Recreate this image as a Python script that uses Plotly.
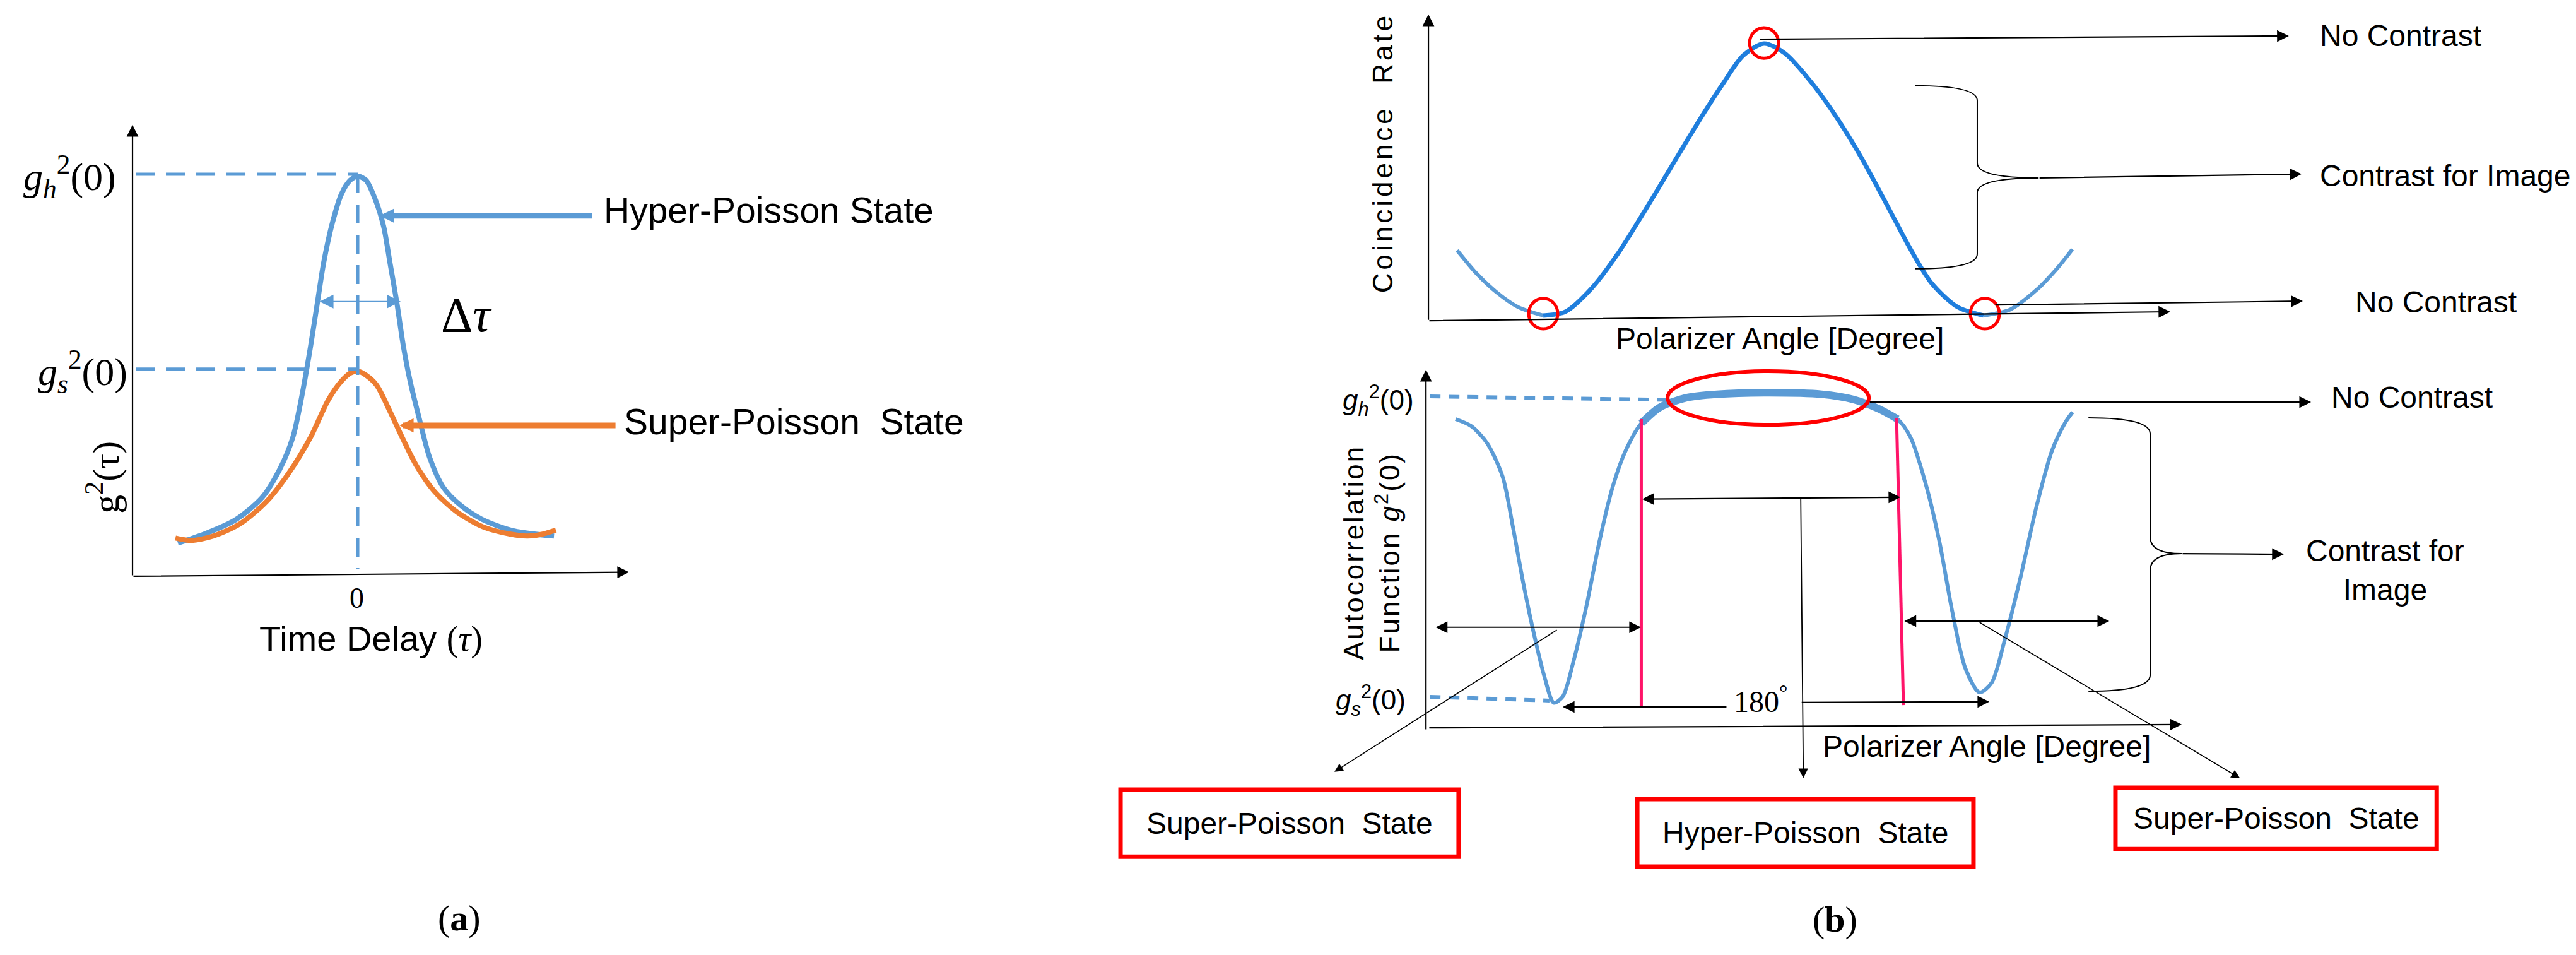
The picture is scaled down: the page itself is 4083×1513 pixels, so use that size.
import plotly.graph_objects as go

SANS = "Liberation Sans, Arial, sans-serif"
SERIF = "Liberation Serif, Times New Roman, serif"
BLUE = "#5B9BD5"
BLUE_BRIGHT = "#1F7EDD"
ORANGE = "#ED7D31"
RED = "#FF0000"
PINK = "#FF1469"

# (a) second-order correlation vs time delay
tau_hyper = [-2.85, -2.43, -1.94, -1.52, -1.24, -1.03, -0.89, -0.75, -0.64, -0.54, -0.40, -0.26, -0.12, 0.0,
             0.13, 0.27, 0.41, 0.51, 0.62, 0.72, 0.83, 0.97, 1.14, 1.36, 1.64, 1.99, 2.48, 3.11]
g2_hyper = [0.165, 0.21, 0.28, 0.39, 0.53, 0.69, 0.89, 1.14, 1.36, 1.56, 1.76, 1.90, 1.97, 1.99,
            1.97, 1.88, 1.74, 1.56, 1.36, 1.15, 0.97, 0.79, 0.59, 0.44, 0.35, 0.28, 0.225, 0.20]
tau_super = [-2.89, -2.64, -2.29, -1.87, -1.45, -1.10, -0.75, -0.47, -0.26, -0.12, 0.0, 0.13, 0.30,
             0.51, 0.72, 0.93, 1.22, 1.57, 1.99, 2.41, 2.69, 2.93, 3.14]
g2_super = [0.19, 0.178, 0.20, 0.26, 0.37, 0.51, 0.69, 0.875, 0.97, 1.01, 1.02, 1.00, 0.95,
            0.82, 0.68, 0.55, 0.42, 0.32, 0.245, 0.21, 0.20, 0.21, 0.23]

# (b) top: coincidence rate vs polarizer angle
theta_rate = [54.9, 62.8, 71.2, 79.8, 90.0, 99.0, 109.7, 120.3, 130.9, 141.6, 152.2, 163.0, 171.5, 180.0,
              188.5, 199.3, 209.9, 220.7, 231.3, 239.7, 248.2, 258.9, 269.5, 280.3, 290.9, 299.4, 305.7]
rate = [0.24, 0.155, 0.084, 0.031, 0.0, 0.014, 0.10, 0.226, 0.378, 0.538, 0.697, 0.849, 0.956, 1.0,
        0.964, 0.857, 0.724, 0.564, 0.386, 0.244, 0.12, 0.031, 0.0, 0.022, 0.093, 0.173, 0.244]

# (b) bottom: autocorrelation g2(0) vs polarizer angle
theta_g2 = [48.0, 54.6, 61.3, 67.9, 72.3, 76.7, 81.2, 85.6, 89.5, 93.3, 97.7, 103.3, 108.8, 114.3, 119.8,
            126.5, 134.2, 145.3, 158.5, 180.6, 202.7, 216.0, 227.1, 234.8, 240.3, 246.9, 252.5, 258.0,
            263.5, 269.5, 274.6, 280.1, 286.7, 293.4, 300.0, 305.5, 308.8]
g2_pol = [1.929, 1.906, 1.850, 1.739, 1.571, 1.385, 1.218, 1.078, 0.993, 1.013, 1.125, 1.311, 1.525, 1.702,
          1.823, 1.915, 1.967, 1.999, 2.011, 2.016, 2.011, 1.994, 1.962, 1.929, 1.869, 1.710, 1.525, 1.292,
          1.106, 1.027, 1.059, 1.200, 1.404, 1.636, 1.823, 1.915, 1.952]

g2_levels = {"h": 2.0, "s": 1.03}          # panel (a) reference levels
pol_levels = {"h": 2.0, "s": 1.0}          # panel (b) reference levels
state_names = ["Super-Poisson\u00a0 State", "Hyper-Poisson\u00a0 State", "Super-Poisson\u00a0 State"]

A = ("x", "y")
T = ("x2", "y2")
B = ("x3", "y3")

fig = go.Figure()


def curve(ax, x, y, color, width):
    fig.add_trace(go.Scatter(x=x, y=y, mode="lines", xaxis=ax[0], yaxis=ax[1],
                             line=dict(color=color, width=width, shape="spline", smoothing=0.8),
                             hoverinfo="skip", showlegend=False))


def seg(ax, p0, p1, color="black", width=2, dash="solid"):
    fig.add_shape(type="line", xref=ax[0], yref=ax[1], x0=p0[0], y0=p0[1], x1=p1[0], y1=p1[1],
                  line=dict(color=color, width=width, dash=dash))


def arrow(ax, tail, head, color="black", width=2.2, size=1.7, both=False):
    fig.add_annotation(xref=ax[0], yref=ax[1], axref=ax[0], ayref=ax[1],
                       x=head[0], y=head[1], ax=tail[0], ay=tail[1], text="", showarrow=True,
                       arrowhead=2, startarrowhead=2, arrowside="end+start" if both else "end",
                       arrowsize=size, startarrowsize=size, arrowwidth=width, arrowcolor=color)


def label(ax, x, y, text, size=48, family=SANS, xanchor="center", angle=0):
    fig.add_annotation(xref=ax[0], yref=ax[1], x=x, y=y, text=text, showarrow=False,
                       xanchor=xanchor, yanchor="middle", textangle=angle,
                       font=dict(family=family, size=size, color="black"))


def spaced(text, px):
    return f"<span style='letter-spacing:{px}px'>{text}</span>"


# ---------------- panel (a) ----------------
dash_a = "30px,18px"
seg(A, (-3.52, g2_levels["h"]), (0, g2_levels["h"]), BLUE, 5, dash_a)
seg(A, (-3.52, g2_levels["s"]), (0, g2_levels["s"]), BLUE, 5, dash_a)
seg(A, (0, g2_levels["h"]), (0, 0.035), BLUE, 5, dash_a)
curve(A, tau_hyper, g2_hyper, BLUE, 8)
curve(A, tau_super, g2_super, ORANGE, 8)
arrow(A, (-3.57, 0), (-3.57, 2.245))
arrow(A, (-3.57, 0), (4.30, 0.02))
arrow(A, (-0.62, 1.366), (0.68, 1.366), BLUE, 2, 2.2, both=True)
arrow(A, (3.73, 1.793), (0.35, 1.793), BLUE, 9, 0.5)
arrow(A, (4.10, 0.75), (0.66, 0.75), ORANGE, 9, 0.5)
label(A, -4.57, 1.99, "<i>g<sub>h</sub></i><sup>2</sup>(0)", 62, SERIF)
label(A, -4.36, 1.02, "<i>g<sub>s</sub></i><sup>2</sup>(0)", 62, SERIF)
label(A, -4.03, 0.49, "g<sup>2</sup>(τ)", 60, SERIF, angle=-90)
label(A, 1.72, 1.30, "Δ<i>τ</i>", 78, SERIF)
label(A, 3.88, 1.82, "Hyper-Poisson State", 57, xanchor="left")
label(A, 4.20, 0.77, "Super-Poisson\u00a0 State", 57, xanchor="left")
label(A, -0.02, -0.11, "0", 46, SERIF)
label(A, 0.21, -0.31, "Time Delay <span style='font-family:Liberation Serif'>(<i>τ</i>)</span>", 56)
label(A, 1.61, -1.70, "(<b>a</b>)", 58, SERIF)

# ---------------- panel (b) top ----------------
arrow(T, (43.2, -0.019), (43.2, 1.107))
arrow(T, (43.2, -0.019), (345.6, 0.014))
curve(T, theta_rate[:5], rate[:5], BLUE, 6)
curve(T, theta_rate[4:23], rate[4:23], BLUE_BRIGHT, 7)
curve(T, theta_rate[22:], rate[22:], BLUE, 6)
for c, r in [(90, 0.007), (180, 1.002), (270, 0.007)]:
    fig.add_shape(type="circle", xref="x2", yref="y2", x0=c - 5.9, x1=c + 5.9, y0=r - 0.056, y1=r + 0.056,
                  line=dict(color=RED, width=5))
arrow(T, (177.9, 1.016), (393.9, 1.028))
label(T, 406, 1.03, "No Contrast", 48, xanchor="left")
fig.add_shape(type="path", xref="x2", yref="y2", line=dict(color="black", width=2),
              path="M241.7,0.845 Q266.9,0.845 266.9,0.79 L266.9,0.56 Q266.9,0.506 291.9,0.506 "
                   "Q266.9,0.506 266.9,0.452 L266.9,0.226 Q266.9,0.172 241.7,0.172")
arrow(T, (291.9, 0.506), (399.1, 0.520))
label(T, 406, 0.515, "Contrast for Image", 48, xanchor="left")
arrow(T, (273.9, 0.039), (399.6, 0.053))
label(T, 420.4, 0.049, "No Contrast", 48, xanchor="left")
label(T, 24.4, 0.60, spaced("Coincidence\u00a0 Rate", 5), 44, angle=-90)
label(T, 186.4, -0.084, "Polarizer Angle [Degree]", 48)

# ---------------- panel (b) bottom ----------------
dash_b = "17px,13px"
seg(B, (37.1, 2.004), (142.9, 1.992), BLUE, 6, dash_b)
seg(B, (37.1, 1.0125), (87.7, pol_levels["s"]), BLUE, 6, dash_b)
arrow(B, (35.5, 0.902), (35.5, 2.092))
arrow(B, (36.5, 0.910), (354.9, 0.921))
curve(B, theta_g2, g2_pol, BLUE, 6)
curve(B, theta_g2[15:24], g2_pol[15:24], BLUE, 12)
fig.add_shape(type="circle", xref="x3", yref="y3", x0=137.6, x1=222.7, y0=1.910, y1=2.0875,
              line=dict(color=RED, width=6))
seg(B, (126.5, 1.929), (126.5, 0.981), PINK, 5)
seg(B, (234.4, 1.933), (237.3, 0.985), PINK, 5)
arrow(B, (126.5, 1.665), (236.0, 1.671), both=True)
arrow(B, (193.9, 1.669), (195.0, 0.744), width=1.8)
arrow(B, (39.2, 1.242), (126.4, 1.242), both=True)
arrow(B, (237.3, 1.2625), (324.3, 1.2625), both=True)
arrow(B, (91.2, 1.235), (-3.2, 0.765), width=1.6)
arrow(B, (269.1, 1.260), (379.5, 0.744), width=1.6)
arrow(B, (162.9, 0.979), (93.3, 0.979))
arrow(B, (193.9, 0.994), (273.6, 0.996))
label(B, 176.8, 1.004, "180<sup>°</sup>", 48, SERIF)
label(B, 12.5, 1.49, spaced("Autocorrelation", 3) + "<br>" + spaced("Function <i>g</i><sup>2</sup>(0)", 3),
      44, angle=-90)
label(B, 31.0, 1.99, "<i>g<sub>h</sub></i><sup>2</sup>(0)", 44, xanchor="right")
label(B, 27.5, 1.0, "<i>g<sub>s</sub></i><sup>2</sup>(0)", 44, xanchor="right")
fig.add_shape(type="path", xref="x3", yref="y3", line=dict(color="black", width=2),
              path="M315.5,1.933 Q341.6,1.933 341.6,1.88 L341.6,1.54 Q341.6,1.485 354.9,1.485 "
                   "Q341.6,1.485 341.6,1.43 L341.6,1.085 Q341.6,1.031 315.5,1.031")
arrow(B, (354.9, 1.485), (398.1, 1.483))
label(B, 440.8, 1.43, "Contrast for<br>Image", 48)
arrow(B, (222.7, 1.985), (409.6, 1.985))
label(B, 417.6, 2.0, "No Contrast", 48, xanchor="left")
label(B, 272.5, 0.848, "Polarizer Angle [Degree]", 48)

boxes = [(-93.6, 49.3, 0.485, 0.706), (124.8, 266.9, 0.452, 0.675), (326.9, 462.7, 0.510, 0.7125)]
for (x0, x1, y0, y1), name in zip(boxes, state_names):
    fig.add_shape(type="rect", xref="x3", yref="y3", x0=x0, x1=x1, y0=y0, y1=y1,
                  line=dict(color=RED, width=7), fillcolor="white")
    label(B, (x0 + x1) / 2, (y0 + y1) / 2, name, 48)
label(B, 208.3, 0.279, "(<b>b</b>)", 58, SERIF)

hidden = dict(visible=False, fixedrange=True)
fig.update_layout(
    width=4083, height=1513, margin=dict(l=0, r=0, t=0, b=0),
    paper_bgcolor="white", plot_bgcolor="white", showlegend=False,
    xaxis=dict(domain=[0, 0.4164], range=[-5.59, 11.41], **hidden),
    yaxis=dict(domain=[0, 1], range=[-1.909, 2.841], **hidden),
    xaxis2=dict(domain=[0.5021, 1], range=[-9.77, 513.0], anchor="y2", **hidden),
    yaxis2=dict(domain=[0.6299, 1], range=[-0.1578, 1.1415], anchor="x2", **hidden),
    xaxis3=dict(domain=[0.4164, 1], range=[-111.7, 523.7], anchor="y3", **hidden),
    yaxis3=dict(domain=[0, 0.6299], range=[0.1437, 2.129], anchor="x3", **hidden),
)

fig.write_html("out.html")
